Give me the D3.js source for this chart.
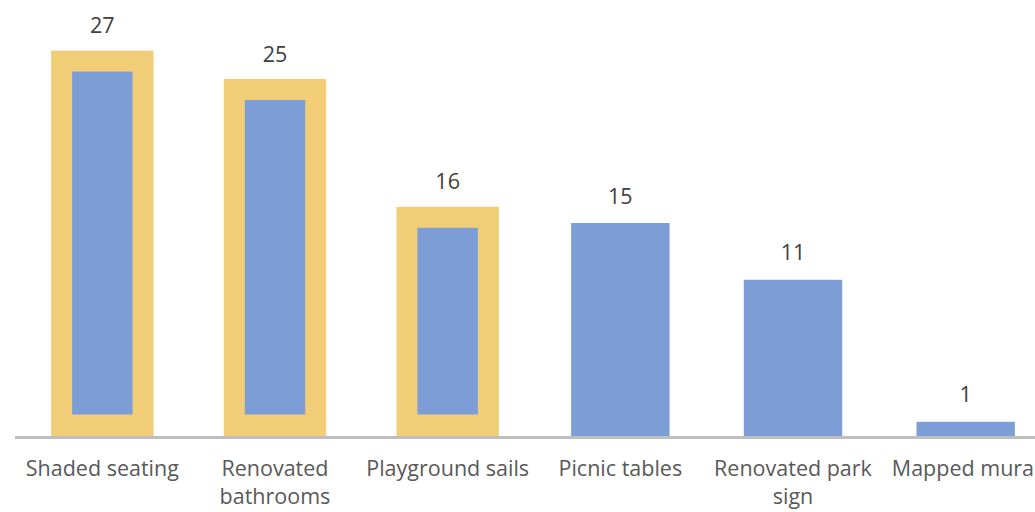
<!DOCTYPE html>
<html><head><meta charset="utf-8">
<script src="https://cdn.jsdelivr.net/npm/d3@7"></script>
<style>html,body{margin:0;padding:0;background:#fff;overflow:hidden}</style>
</head><body><svg id="c" width="1035" height="512"></svg>
<script>
const categories = ["Shaded seating", "Renovated\nbathrooms", "Playground sails", "Picnic tables", "Renovated park\nsign", "Mapped mural"];
const values = [27, 25, 16, 15, 11, 1];
const highlighted = [true, true, true, false, false, false];

const svg = d3.select("#c");
const FONT = "'Open Sans', sans-serif";
const x = d3.scaleBand().domain(categories).range([16, 1052]).paddingInner(0.43).paddingOuter(0.215);
const y = d3.scaleLinear().domain([0, 30]).range([436, 10]);
const data = categories.map((c, i) => ({c, v: values[i], h: highlighted[i]}));

const g = svg.append("g");
// highlight frames
g.selectAll("rect.hl").data(data.filter(d => d.h)).join("rect")
  .attr("class", "hl")
  .attr("x", d => x(d.c) - 2).attr("width", x.bandwidth() + 4)
  .attr("y", d => y(d.v) - 2).attr("height", d => y(0) - y(d.v) + 2)
  .attr("fill", "#F1CD78");
g.selectAll("rect.bar").data(data).join("rect")
  .attr("class", "bar")
  .attr("x", d => d.h ? x(d.c) + 19 : x(d.c))
  .attr("width", d => d.h ? x.bandwidth() - 38 : x.bandwidth())
  .attr("y", d => d.h ? y(d.v) + 19 : y(d.v))
  .attr("height", d => d.h ? y(0) - y(d.v) - 40.5 : y(0) - y(d.v))
  .attr("fill", "#7C9DD6");

// baseline
svg.append("line").attr("x1", 15).attr("x2", 1035).attr("y1", y(0) + 1.5).attr("y2", y(0) + 1.5)
  .attr("stroke", "#BFBFBF").attr("stroke-width", 3);

// value labels
svg.selectAll("text.val").data(data).join("text")
  .attr("class", "val")
  .attr("x", d => x(d.c) + x.bandwidth() / 2)
  .attr("y", d => y(d.v) - 19.5)
  .attr("text-anchor", "middle")
  .attr("font-family", FONT).attr("font-size", 21.5).attr("fill", "#404040")
  .text(d => d.v);

// category labels
const cl = svg.selectAll("text.cat").data(data).join("text")
  .attr("class", "cat")
  .attr("text-anchor", "middle")
  .attr("font-family", FONT).attr("font-size", 21.5).attr("fill", "#595959");
cl.each(function(d) {
  const t = d3.select(this);
  d.c.split("\n").forEach((line, i) => {
    t.append("tspan").attr("x", x(d.c) + x.bandwidth() / 2).attr("y", 476 + i * 28).text(line);
  });
});
</script></body></html>
